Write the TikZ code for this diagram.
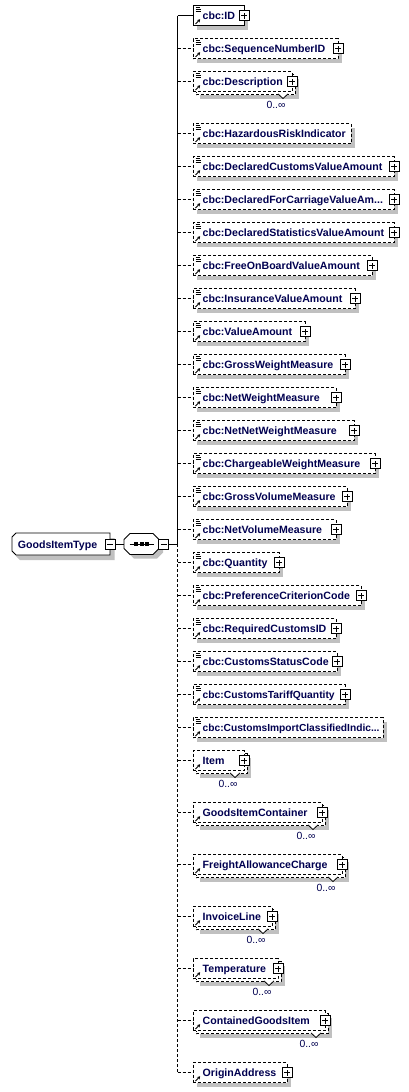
\documentclass[tikz,border=0pt]{standalone}
\usepackage{fontspec}
\setmainfont{Liberation Sans}
\usetikzlibrary{arrows.meta}
\definecolor{navy}{RGB}{0,0,80}
\definecolor{shad}{RGB}{192,192,192}
\tikzset{
  dsh/.style={dash pattern=on 3pt off 2pt},
  conn/.style={line width=0.9pt},
  elbox/.style={draw=black, line width=0.9pt, fill=white, minimum height=20pt, inner sep=0pt, outer sep=0pt, anchor=west},
  eltext/.style={font=\bfseries\fontsize{10.6}{12}\selectfont, text=navy, inner sep=0pt, anchor=base west},
  occ/.style={font=\fontsize{10.4}{12}\selectfont, text=navy, inner sep=0pt, anchor=base},
  btn/.style={draw=black, line width=0.8pt, fill=white, minimum size=10pt, inner sep=0pt, outer sep=0pt},
  plusbtn/.style={btn, path picture={\draw[line width=0.8pt] ([xshift=-3pt]path picture bounding box.center) -- ([xshift=3pt]path picture bounding box.center) ([yshift=-3pt]path picture bounding box.center) -- ([yshift=3pt]path picture bounding box.center);}},
  minusbtn/.style={btn, path picture={\draw[line width=0.8pt] ([xshift=-3pt]path picture bounding box.center) -- ([xshift=3pt]path picture bounding box.center);}},
  icon/.style={line width=0.8pt, black},
}
% #1 name, #2 y, #3 right edge, #4 text, #5 border style, #6 repeated, #7 plus button, #8 simple-type icon
\newcommand{\xel}[8]{%
  \coordinate (t#1) at (177.5,#2);
  \ifnum#6=1
    \fill[shad] (200,{#2-3}) rectangle ({#3+7},{#2+17});
    \draw[line width=0.9pt, dsh, fill=white] (196,{#2-7}) rectangle ({#3+3},{#2+13});
  \else
    \fill[shad] (197,{#2-6}) rectangle ({#3+4},{#2+14});
  \fi
  \node[elbox,#5,minimum width={#3-193}] (#1) at (193,#2) {};
  \draw[conn,#5] (t#1) -- (#1.west);
  \ifnum#8=1
    \draw[icon] (195.5,{#2-8}) -- (200,{#2-8});
    \draw[icon] (195.5,{#2-6}) -- (201,{#2-6});
    \draw[icon] (195.5,{#2-4}) -- (201,{#2-4});
  \fi
  \draw[line width=1pt,-{Stealth[length=3pt,width=3.5pt]}] (195.5,{#2+8.5}) -- (200.2,{#2+3.8});
  \node[eltext] (#1-t) at (202.5,{#2+4}) {#4};
  \ifnum#7=1
    \node[plusbtn] (#1-p) at (#3,#2) {};
  \fi
  \ifnum#6=1
    \draw[line width=0.8pt, fill=white] ({#3-14},{#2+12.4}) -- ({#3-9},{#2+17}) -- ({#3-4},{#2+12.4});
    \node[occ] (#1-o) at ({#3-16},{#2+27}) {0..∞};
  \fi
}
\begin{document}
\begin{tikzpicture}[x=1pt,y=-1pt]
\fill[white] (0,0) rectangle (409,1092);
\useasboundingbox (0,0) rectangle (409,1092);

% root element
\fill[shad] (20,538) -- (114.5,538) -- (114.5,560) -- (20,560) -- (16,556) -- (16,542) -- cycle;
\node[minimum width=98pt, minimum height=22pt, inner sep=0pt] (root) at (61,544) {};
\draw[line width=0.9pt, fill=white] (16,533) -- (110,533) -- (110,555) -- (16,555) -- (12,551) -- (12,537) -- cycle;
\node[eltext, anchor=base] (root-t) at (57.5,548) {GoodsItemType};
\node[minusbtn] (root-m) at (root.east) {};

% sequence compositor
\fill[shad] (134,537.5) -- (157,537.5) -- (163,543.5) -- (163,552.5) -- (157,558.5) -- (134,558.5) -- (128,552.5) -- (128,543.5) -- cycle;
\node[minimum width=35pt, minimum height=21pt, inner sep=0pt] (comp) at (141.5,544) {};
\draw[line width=0.9pt, fill=white] (130,533.5) -- (153,533.5) -- (159,539.5) -- (159,548.5) -- (153,554.5) -- (130,554.5) -- (124,548.5) -- (124,539.5) -- cycle;
\draw[line width=0.9pt] (129.5,544) -- (153.5,544);
\fill (134.3,542.3) rectangle (138.3,545.7);
\fill (139.5,542.3) rectangle (143.5,545.7);
\fill (144.7,542.3) rectangle (148.7,545.7);
\node[minusbtn] (comp-m) at (163.5,544) {};
\coordinate (tj) at (177.5,544);
\draw[conn] (root-m.east) -- (comp.west);
\draw[conn] (comp-m.east) -- (tj);

% children
\xel{e1}{15.5}{244}{cbc:ID}{solid}{0}{1}{1}
\xel{e2}{48.5}{338}{cbc:SequenceNumberID}{dsh}{0}{1}{1}
\xel{e3}{81.5}{292}{cbc:Description}{dsh}{1}{1}{1}
\xel{e4}{133.5}{351}{cbc:HazardousRiskIndicator}{dsh}{0}{0}{1}
\xel{e5}{166.5}{394}{cbc:DeclaredCustomsValueAmount}{dsh}{0}{1}{1}
\xel{e6}{199.5}{394}{cbc:DeclaredForCarriageValueAm...}{dsh}{0}{1}{1}
\xel{e7}{232.5}{394}{cbc:DeclaredStatisticsValueAmount}{dsh}{0}{1}{1}
\xel{e8}{265.5}{372}{cbc:FreeOnBoardValueAmount}{dsh}{0}{1}{1}
\xel{e9}{298.5}{355}{cbc:InsuranceValueAmount}{dsh}{0}{1}{1}
\xel{e10}{331.5}{305}{cbc:ValueAmount}{dsh}{0}{1}{1}
\xel{e11}{364.5}{345}{cbc:GrossWeightMeasure}{dsh}{0}{1}{1}
\xel{e12}{397.5}{336}{cbc:NetWeightMeasure}{dsh}{0}{1}{1}
\xel{e13}{430.5}{354}{cbc:NetNetWeightMeasure}{dsh}{0}{1}{1}
\xel{e14}{463.5}{375}{cbc:ChargeableWeightMeasure}{dsh}{0}{1}{1}
\xel{e15}{496.5}{347}{cbc:GrossVolumeMeasure}{dsh}{0}{1}{1}
\xel{e16}{529.5}{336}{cbc:NetVolumeMeasure}{dsh}{0}{1}{1}
\xel{e17}{562.5}{279}{cbc:Quantity}{dsh}{0}{1}{1}
\xel{e18}{595.5}{361}{cbc:PreferenceCriterionCode}{dsh}{0}{1}{1}
\xel{e19}{628.5}{336}{cbc:RequiredCustomsID}{dsh}{0}{1}{1}
\xel{e20}{661.5}{337}{cbc:CustomsStatusCode}{dsh}{0}{1}{1}
\xel{e21}{694.5}{345}{{\fontsize{10.3}{12}\selectfont cbc:CustomsTariffQuantity}}{dsh}{0}{1}{1}
\xel{e22}{727.5}{383}{{\fontsize{10.2}{12}\selectfont cbc:CustomsImportClassifiedIndic...}}{dsh}{0}{0}{1}
\xel{e23}{760.5}{244}{Item}{dsh}{1}{1}{0}
\xel{e24}{812.5}{322}{GoodsItemContainer}{dsh}{1}{1}{0}
\xel{e25}{864.5}{342}{FreightAllowanceCharge}{dsh}{1}{1}{0}
\xel{e26}{916.5}{272}{InvoiceLine}{dsh}{1}{1}{0}
\xel{e27}{968.5}{278}{Temperature}{dsh}{1}{1}{0}
\xel{e28}{1020.5}{325}{ContainedGoodsItem}{dsh}{1}{1}{0}
\xel{e29}{1072.5}{287}{OriginAddress}{dsh}{0}{1}{0}

% trunk
\draw[conn] (te1) -- (tj);
\draw[conn,dsh] (tj) -- (te29);
\end{tikzpicture}
\end{document}
